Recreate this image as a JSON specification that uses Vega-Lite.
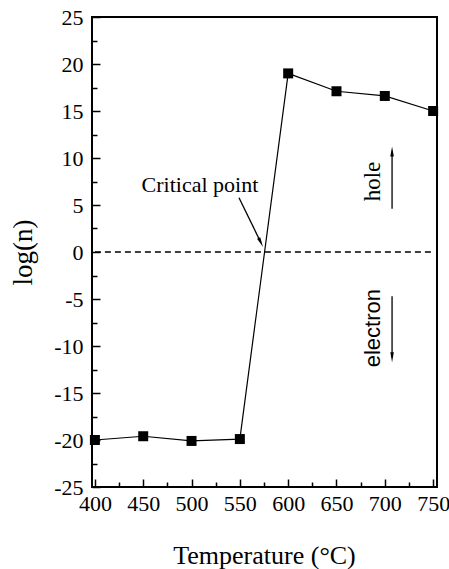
{
  "$schema": "https://vega.github.io/schema/vega-lite/v6.json",
  "width": 345,
  "height": 470,
  "autosize": {"type": "none"},
  "padding": {"left": 92, "top": 17, "right": 12, "bottom": 82},
  "background": "white",
  "config": {
    "view": {"stroke": "black", "strokeWidth": 2},
    "font": "Liberation Serif",
    "axis": {
      "grid": false,
      "domain": false,
      "tickColor": "black",
      "tickWidth": 1.5,
      "labelColor": "black",
      "labelFont": "Liberation Serif",
      "labelFontSize": 22,
      "titleColor": "black",
      "titleFont": "Liberation Serif",
      "titleFontWeight": "normal"
    }
  },
  "datasets": {
    "series": [
      {"T": 400, "logn": -20.0},
      {"T": 450, "logn": -19.6},
      {"T": 500, "logn": -20.1},
      {"T": 550, "logn": -19.9},
      {"T": 600, "logn": 19.0},
      {"T": 650, "logn": 17.1},
      {"T": 700, "logn": 16.6},
      {"T": 750, "logn": 15.0}
    ],
    "zero": [{"x1": 400, "x2": 750, "y": 0}],
    "arrows": [
      {"name": "critical", "x1": 549.1, "y1": 5.78, "x2": 571.7, "y2": 1.02},
      {"name": "hole", "x1": 707.5, "y1": 4.6, "x2": 707.5, "y2": 10.7},
      {"name": "electron", "x1": 707.5, "y1": -4.7, "x2": 707.5, "y2": -11.2}
    ],
    "heads": [
      {"name": "critical", "x": 571.7, "y": 1.02, "dir": 154},
      {"name": "hole", "x": 707.5, "y": 10.7, "dir": 0},
      {"name": "electron", "x": 707.5, "y": -11.2, "dir": 180}
    ]
  },
  "resolve": {"axis": {"x": "independent", "y": "independent"}},
  "layer": [
    {
      "data": {"name": "series"},
      "mark": {"type": "line", "color": "black", "strokeWidth": 1.2},
      "encoding": {
        "x": {
          "field": "T", "type": "quantitative",
          "scale": {"domain": [397, 754], "nice": false, "zero": false},
          "axis": {
            "orient": "bottom",
            "values": [400, 450, 500, 550, 600, 650, 700, 750],
            "labelExpr": "'' + datum.value",
            "tickSize": -8,
            "labelPadding": 14,
            "labelFlush": false,
            "title": "Temperature (°C)",
            "titleFontSize": 26,
            "titleX": 172,
            "titleY": 68,
            "titleAlign": "center",
            "titleBaseline": "middle"
          }
        },
        "y": {
          "field": "logn", "type": "quantitative",
          "scale": {"domain": [-25, 25], "nice": false, "zero": false},
          "axis": {
            "orient": "left",
            "values": [-25, -20, -15, -10, -5, 0, 5, 10, 15, 20, 25],
            "labelExpr": "'' + datum.value",
            "tickSize": -8,
            "labelPadding": 17,
            "labelFlush": false,
            "title": "log(n)",
            "titleFontSize": 27,
            "titleAngle": -90,
            "titleX": -69,
            "titleY": 235,
            "titleAlign": "center",
            "titleBaseline": "middle"
          }
        }
      }
    },
    {
      "data": {"name": "series"},
      "mark": {"type": "point", "shape": "square", "filled": true, "color": "black", "size": 100, "opacity": 1},
      "encoding": {
        "x": {"field": "T", "type": "quantitative", "axis": null},
        "y": {"field": "logn", "type": "quantitative", "axis": null}
      }
    },
    {
      "data": {"name": "zero"},
      "mark": {"type": "rule", "color": "black", "strokeWidth": 1.3, "strokeDash": [6, 4]},
      "encoding": {
        "x": {
          "field": "x1", "type": "quantitative",
          "axis": {
            "orient": "bottom",
            "values": [425, 475, 525, 575, 625, 675, 725],
            "tickSize": -5,
            "labels": false,
            "title": null
          }
        },
        "x2": {"field": "x2"},
        "y": {
          "field": "y", "type": "quantitative",
          "axis": {
            "orient": "left",
            "values": [-22.5, -17.5, -12.5, -7.5, -2.5, 2.5, 7.5, 12.5, 17.5, 22.5],
            "tickSize": -5,
            "labels": false,
            "title": null
          }
        }
      }
    },
    {
      "data": {"name": "arrows"},
      "mark": {"type": "rule", "color": "black", "strokeWidth": 1.3},
      "encoding": {
        "x": {"field": "x1", "type": "quantitative", "axis": null},
        "y": {"field": "y1", "type": "quantitative", "axis": null},
        "x2": {"field": "x2"},
        "y2": {"field": "y2"}
      }
    },
    {
      "data": {"name": "heads"},
      "mark": {"type": "point", "shape": "M-0.35,1L0,-1L0.35,1Z", "filled": true, "color": "black", "size": 100, "opacity": 1},
      "encoding": {
        "x": {"field": "x", "type": "quantitative", "axis": null},
        "y": {"field": "y", "type": "quantitative", "axis": null},
        "angle": {"field": "dir", "type": "quantitative", "scale": null}
      }
    },
    {
      "data": {"values": [{"label": "Critical point", "x": 508.7, "y": 6.4}]},
      "mark": {"type": "text", "font": "Liberation Serif", "fontSize": 22, "align": "center", "baseline": "alphabetic", "color": "black"},
      "encoding": {
        "x": {"field": "x", "type": "quantitative", "axis": null},
        "y": {"field": "y", "type": "quantitative", "axis": null},
        "text": {"field": "label"}
      }
    },
    {
      "data": {"values": [{"label": "hole", "x": 695, "y": 7.5}]},
      "mark": {"type": "text", "font": "Liberation Serif", "fontSize": 23, "angle": 270, "align": "center", "baseline": "alphabetic", "color": "black"},
      "encoding": {
        "x": {"field": "x", "type": "quantitative", "axis": null},
        "y": {"field": "y", "type": "quantitative", "axis": null},
        "text": {"field": "label"}
      }
    },
    {
      "data": {"values": [{"label": "electron", "x": 695, "y": -8.1}]},
      "mark": {"type": "text", "font": "Liberation Sans", "fontSize": 22, "angle": 270, "align": "center", "baseline": "alphabetic", "color": "black"},
      "encoding": {
        "x": {"field": "x", "type": "quantitative", "axis": null},
        "y": {"field": "y", "type": "quantitative", "axis": null},
        "text": {"field": "label"}
      }
    }
  ]
}
